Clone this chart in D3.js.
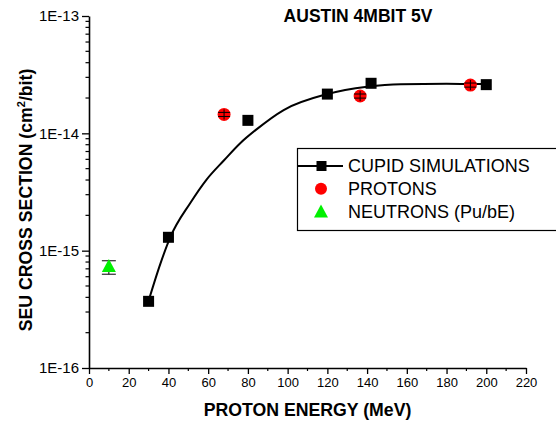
<!DOCTYPE html>
<html>
<head>
<meta charset="utf-8">
<script src="https://cdn.jsdelivr.net/npm/d3@7"></script>
<style>
  body { margin: 0; background: #fff; overflow: hidden; }
  svg { display: block; font-family: "Liberation Sans", Arial, sans-serif; }
</style>
</head>
<body>
<svg id="chart" width="556" height="434"></svg>
<script>
// CUPID simulation points
var simE = [30, 40, 80, 120, 142, 200];
var simXS = [3.7e-16, 1.3e-15, 1.29e-14, 2.16e-14, 2.67e-14, 2.6e-14];
// fitted curve through simulations
var fitE = [30, 36, 41, 51, 59, 68, 76, 84, 98, 120, 140, 157, 180, 200];
var fitXS = [3.74e-16, 7.8e-16, 1.31e-15, 2.55e-15, 4.0e-15, 5.9e-15, 8.2e-15, 1.07e-14,
             1.58e-14, 2.16e-14, 2.49e-14, 2.62e-14, 2.64e-14, 2.63e-14];
// proton measurements
var protonE = [68, 136.5, 192];
var protonXS = [1.45e-14, 2.08e-14, 2.58e-14];
var protonErr = [0.04, 0.04, 0.04];
// neutron measurement
var neutronE = [10];
var neutronXS = [7.4e-16];
var neutronLo = [6.3e-16];
var neutronHi = [8.2e-16];

var xTicks = [0, 20, 40, 60, 80, 100, 120, 140, 160, 180, 200, 220];
var yTicks = [1e-16, 1e-15, 1e-14, 1e-13];
var yTickLabels = ["1E-16", "1E-15", "1E-14", "1E-13"];

var svg = d3.select("#chart");

var x = d3.scaleLinear().domain([0, 220]).range([89, 526]);
var y = d3.scaleLog().domain([1e-16, 1e-13]).range([368, 16]);

// x axis
var xAxis = svg.append("g")
  .attr("transform", "translate(0,368)")
  .call(d3.axisBottom(x).tickValues(xTicks).tickSize(6).tickSizeOuter(0).tickPadding(4).tickFormat(d3.format("d")));
xAxis.select(".domain").attr("stroke-width", 1.6);
xAxis.selectAll(".tick line").attr("stroke-width", 1.3);
xAxis.selectAll(".tick text").attr("font-size", 13).attr("fill", "#000");
xAxis.append("g").selectAll("line")
  .data(d3.range(10, 220, 20))
  .enter().append("line")
  .attr("x1", function(d) { return x(d); })
  .attr("x2", function(d) { return x(d); })
  .attr("y1", 0).attr("y2", 3)
  .attr("stroke", "#000").attr("stroke-width", 1.2);

// y axis
var yAxis = svg.append("g")
  .attr("transform", "translate(89,0)")
  .call(d3.axisLeft(y).tickValues(yTicks).tickSize(7).tickSizeOuter(0).tickPadding(3)
    .tickFormat(function(d, i) { return yTickLabels[i]; }));
yAxis.select(".domain").attr("stroke-width", 1.6);
yAxis.selectAll(".tick line").attr("stroke-width", 1.3);
yAxis.selectAll(".tick text").attr("font-size", 15).attr("fill", "#000");
var minor = y.ticks().filter(function(d) { return Math.abs(Math.log10(d) - Math.round(Math.log10(d))) > 1e-6; });
yAxis.append("g").selectAll("line")
  .data(minor)
  .enter().append("line")
  .attr("x1", -3.5).attr("x2", 0)
  .attr("y1", function(d) { return y(d); })
  .attr("y2", function(d) { return y(d); })
  .attr("stroke", "#000").attr("stroke-width", 1.2);

// axis titles
svg.append("text")
  .attr("x", x(110)).attr("y", 416)
  .attr("text-anchor", "middle")
  .attr("font-size", 17.7).attr("font-weight", "bold")
  .text("PROTON ENERGY (MeV)");

var yt = svg.append("text")
  .attr("transform", "translate(32,200) rotate(-90)")
  .attr("text-anchor", "middle")
  .attr("font-size", 17.7).attr("font-weight", "bold");
yt.append("tspan").text("SEU CROSS SECTION (cm");
yt.append("tspan").attr("font-size", 11).attr("dy", -7).text("2");
yt.append("tspan").attr("dy", 7).text("/bit)");

// chart title
svg.append("text")
  .attr("x", 358).attr("y", 22)
  .attr("text-anchor", "middle")
  .attr("font-size", 17.5).attr("font-weight", "bold")
  .text("AUSTIN 4MBIT 5V");

// fit curve
var line = d3.line()
  .x(function(d) { return x(d[0]); })
  .y(function(d) { return y(d[1]); })
  .curve(d3.curveMonotoneX);
svg.append("path")
  .datum(fitE.map(function(e, i) { return [e, fitXS[i]]; }))
  .attr("d", line)
  .attr("fill", "none")
  .attr("stroke", "#000")
  .attr("stroke-width", 2);

// proton circles with error bars
var prot = svg.append("g").selectAll("g")
  .data(protonE.map(function(e, i) { return { e: e, v: protonXS[i], err: protonErr[i] }; }))
  .enter().append("g")
  .attr("transform", function(d) { return "translate(" + x(d.e) + "," + y(d.v) + ")"; });
prot.append("circle").attr("r", 6.5).attr("fill", "#ff0000");
prot.append("line")
  .attr("x1", 0).attr("x2", 0)
  .attr("y1", function(d) { return y(d.v * (1 + d.err)) - y(d.v) - 3; })
  .attr("y2", function(d) { return y(d.v * (1 - d.err)) - y(d.v) + 3; })
  .attr("stroke", "#000").attr("stroke-width", 1);
prot.append("line")
  .attr("x1", -6).attr("x2", 6)
  .attr("y1", function(d) { return y(d.v * (1 + d.err)) - y(d.v); })
  .attr("y2", function(d) { return y(d.v * (1 + d.err)) - y(d.v); })
  .attr("stroke", "#000").attr("stroke-width", 1);
prot.append("line")
  .attr("x1", -6).attr("x2", 6)
  .attr("y1", function(d) { return y(d.v * (1 - d.err)) - y(d.v); })
  .attr("y2", function(d) { return y(d.v * (1 - d.err)) - y(d.v); })
  .attr("stroke", "#000").attr("stroke-width", 1);

// simulation squares
svg.append("g").selectAll("rect")
  .data(simE.map(function(e, i) { return [e, simXS[i]]; }))
  .enter().append("rect")
  .attr("x", function(d) { return x(d[0]) - 5.5; })
  .attr("y", function(d) { return y(d[1]) - 5.5; })
  .attr("width", 11).attr("height", 11)
  .attr("fill", "#000");

// neutron triangle with error bar
var neu = svg.append("g").selectAll("g")
  .data(neutronE.map(function(e, i) { return { e: e, v: neutronXS[i], lo: neutronLo[i], hi: neutronHi[i] }; }))
  .enter().append("g");
neu.append("line")
  .attr("x1", function(d) { return x(d.e); }).attr("x2", function(d) { return x(d.e); })
  .attr("y1", function(d) { return y(d.hi); }).attr("y2", function(d) { return y(d.lo); })
  .attr("stroke", "#000").attr("stroke-width", 1);
neu.append("line")
  .attr("x1", function(d) { return x(d.e) - 7; }).attr("x2", function(d) { return x(d.e) + 7; })
  .attr("y1", function(d) { return y(d.hi); }).attr("y2", function(d) { return y(d.hi); })
  .attr("stroke", "#000").attr("stroke-width", 1);
neu.append("line")
  .attr("x1", function(d) { return x(d.e) - 7; }).attr("x2", function(d) { return x(d.e) + 7; })
  .attr("y1", function(d) { return y(d.lo); }).attr("y2", function(d) { return y(d.lo); })
  .attr("stroke", "#000").attr("stroke-width", 1);
neu.append("path")
  .attr("transform", function(d) { return "translate(" + x(d.e) + "," + y(d.v) + ")"; })
  .attr("d", "M0,-7L7,6L-7,6Z")
  .attr("fill", "#00f000");

// legend
var leg = svg.append("g");
leg.append("rect")
  .attr("x", 297.5).attr("y", 148.5)
  .attr("width", 300).attr("height", 82)
  .attr("fill", "#fff").attr("stroke", "#000").attr("stroke-width", 1.2);
var legItems = ["CUPID SIMULATIONS", "PROTONS", "NEUTRONS (Pu/bE)"];
leg.selectAll("text")
  .data(legItems)
  .enter().append("text")
  .attr("x", 348)
  .attr("y", function(d, i) { return 166 + i * 22.7; })
  .attr("dy", "0.36em")
  .attr("font-size", 18)
  .attr("fill", "#000")
  .text(function(d) { return d; });
leg.append("line").attr("x1", 298).attr("x2", 343).attr("y1", 166).attr("y2", 166)
  .attr("stroke", "#000").attr("stroke-width", 2);
leg.append("rect").attr("x", 316.5).attr("y", 161).attr("width", 10).attr("height", 10).attr("fill", "#000");
leg.append("circle").attr("cx", 321).attr("cy", 188.7).attr("r", 6).attr("fill", "#ff0000");
leg.append("path").attr("transform", "translate(321,211.4)").attr("d", "M0,-7L7,6L-7,6Z").attr("fill", "#00f000");
</script>
</body>
</html>
